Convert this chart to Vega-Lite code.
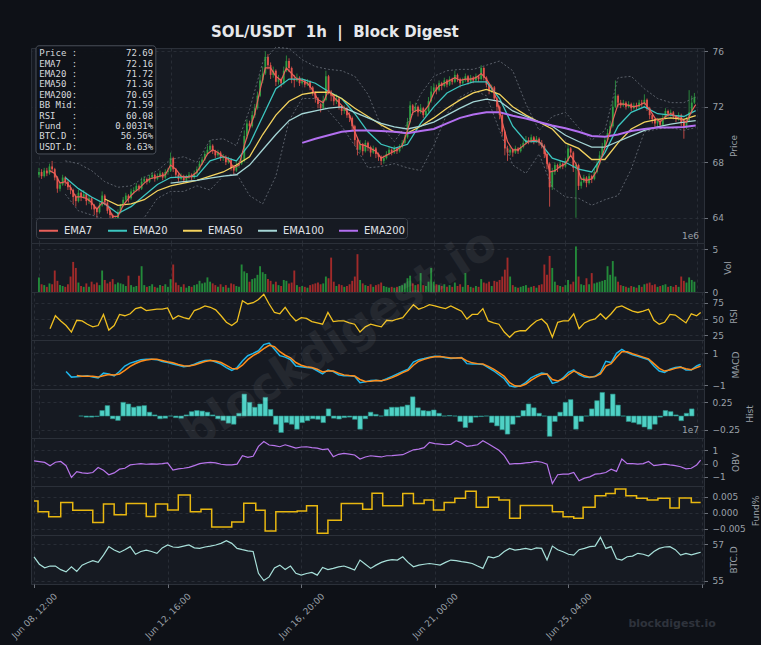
{
"$schema": "https://vega.github.io/schema/vega-lite/v6.json",
"background": "#0e1117",
"padding": {"left": 9, "top": 24, "right": 0, "bottom": 4},
"spacing": 0,
"bounds": "flush",
"resolve": {"legend": {"color": "independent"}, "scale": {"color": "independent"}},
"title": {"text": "SOL/USDT\u00a0\u00a01h\u00a0\u00a0|\u00a0\u00a0Block Digest", "anchor": "start", "frame": "group", "dx": 180, "offset": 5, "fontSize": 15, "fontWeight": "bold", "color": "#e6e8eb", "font": "DejaVu Sans"},
"datasets": {
"c": [
{"h":0,"o":67.1,"c":67.3,"hi":67.6,"lo":66.9,"v":1.7},
{"h":2,"o":67.3,"c":67.0,"hi":67.5,"lo":66.8,"v":0.9},
{"h":4,"o":67.0,"c":67.4,"hi":67.6,"lo":66.9,"v":0.8},
{"h":6,"o":67.4,"c":67.2,"hi":67.6,"lo":67.0,"v":0.6},
{"h":8,"o":67.2,"c":67.7,"hi":67.9,"lo":67.1,"v":1.0},
{"h":10,"o":67.7,"c":67.5,"hi":68.1,"lo":67.3,"v":0.9},
{"h":12,"o":67.5,"c":66.9,"hi":67.6,"lo":66.7,"v":2.5},
{"h":14,"o":66.9,"c":66.1,"hi":67.0,"lo":65.8,"v":1.3},
{"h":16,"o":66.1,"c":66.4,"hi":66.6,"lo":65.9,"v":0.8},
{"h":18,"o":66.4,"c":66.9,"hi":67.1,"lo":66.3,"v":0.7},
{"h":20,"o":66.9,"c":66.6,"hi":67.0,"lo":66.3,"v":0.6},
{"h":22,"o":66.6,"c":66.2,"hi":66.7,"lo":66.0,"v":0.9},
{"h":24,"o":66.2,"c":66.0,"hi":66.4,"lo":65.7,"v":1.8},
{"h":26,"o":66.0,"c":65.5,"hi":66.1,"lo":65.0,"v":3.5},
{"h":28,"o":65.5,"c":65.2,"hi":65.7,"lo":64.8,"v":2.8},
{"h":30,"o":65.2,"c":65.8,"hi":66.0,"lo":65.1,"v":1.1},
{"h":32,"o":65.8,"c":65.5,"hi":65.9,"lo":65.2,"v":0.7},
{"h":34,"o":65.5,"c":65.7,"hi":66.0,"lo":65.4,"v":0.6},
{"h":36,"o":65.7,"c":65.2,"hi":65.8,"lo":64.9,"v":1.0},
{"h":38,"o":65.2,"c":65.4,"hi":65.6,"lo":65.0,"v":0.6},
{"h":40,"o":65.4,"c":64.9,"hi":65.5,"lo":64.6,"v":1.2},
{"h":42,"o":64.9,"c":64.6,"hi":65.0,"lo":64.2,"v":0.9},
{"h":44,"o":64.6,"c":64.4,"hi":64.8,"lo":64.0,"v":1.1},
{"h":46,"o":64.4,"c":64.9,"hi":65.1,"lo":64.3,"v":0.8},
{"h":48,"o":64.9,"c":65.6,"hi":65.9,"lo":64.8,"v":2.5},
{"h":50,"o":65.6,"c":65.1,"hi":65.7,"lo":64.9,"v":1.4},
{"h":52,"o":65.1,"c":64.5,"hi":65.2,"lo":64.3,"v":1.0},
{"h":54,"o":64.5,"c":64.2,"hi":64.7,"lo":63.9,"v":1.2},
{"h":56,"o":64.2,"c":63.7,"hi":64.3,"lo":63.4,"v":1.5},
{"h":58,"o":63.7,"c":63.9,"hi":64.1,"lo":63.5,"v":0.9},
{"h":60,"o":63.9,"c":64.4,"hi":64.6,"lo":63.8,"v":1.1},
{"h":62,"o":64.4,"c":64.9,"hi":65.0,"lo":64.3,"v":1.0},
{"h":64,"o":64.9,"c":65.3,"hi":65.5,"lo":64.8,"v":0.9},
{"h":66,"o":65.3,"c":65.6,"hi":65.8,"lo":65.2,"v":0.7},
{"h":68,"o":65.6,"c":65.4,"hi":65.7,"lo":65.1,"v":1.9},
{"h":70,"o":65.4,"c":65.9,"hi":66.1,"lo":65.3,"v":0.8},
{"h":72,"o":65.9,"c":66.0,"hi":66.2,"lo":65.7,"v":0.6},
{"h":74,"o":66.0,"c":66.3,"hi":66.5,"lo":65.9,"v":0.7},
{"h":76,"o":66.3,"c":66.1,"hi":66.4,"lo":65.9,"v":1.9},
{"h":78,"o":66.1,"c":66.6,"hi":66.9,"lo":66.0,"v":3.0},
{"h":80,"o":66.6,"c":66.8,"hi":67.0,"lo":66.5,"v":0.8},
{"h":82,"o":66.8,"c":66.6,"hi":66.9,"lo":66.4,"v":0.6},
{"h":84,"o":66.6,"c":66.9,"hi":67.1,"lo":66.5,"v":0.7},
{"h":86,"o":66.9,"c":67.1,"hi":67.3,"lo":66.8,"v":0.9},
{"h":88,"o":67.1,"c":66.8,"hi":67.2,"lo":66.6,"v":0.6},
{"h":90,"o":66.8,"c":67.0,"hi":67.2,"lo":66.7,"v":0.5},
{"h":92,"o":67.0,"c":67.2,"hi":67.4,"lo":66.9,"v":0.8},
{"h":94,"o":67.2,"c":66.9,"hi":67.3,"lo":66.7,"v":0.7},
{"h":96,"o":66.9,"c":67.3,"hi":67.5,"lo":66.8,"v":0.9},
{"h":98,"o":67.3,"c":67.4,"hi":67.6,"lo":67.1,"v":0.6},
{"h":100,"o":67.4,"c":68.3,"hi":68.7,"lo":67.3,"v":1.5},
{"h":102,"o":68.3,"c":67.5,"hi":68.4,"lo":67.3,"v":3.2},
{"h":104,"o":67.5,"c":67.1,"hi":67.6,"lo":66.9,"v":1.1},
{"h":106,"o":67.1,"c":66.8,"hi":67.2,"lo":66.6,"v":0.8},
{"h":108,"o":66.8,"c":67.0,"hi":67.2,"lo":66.7,"v":0.6},
{"h":110,"o":67.0,"c":66.7,"hi":67.1,"lo":66.5,"v":0.9},
{"h":112,"o":66.7,"c":66.9,"hi":67.1,"lo":66.6,"v":0.5},
{"h":114,"o":66.9,"c":67.1,"hi":67.3,"lo":66.8,"v":0.7},
{"h":116,"o":67.1,"c":66.9,"hi":67.2,"lo":66.7,"v":0.6},
{"h":118,"o":66.9,"c":67.2,"hi":67.4,"lo":66.8,"v":0.8},
{"h":120,"o":67.2,"c":67.5,"hi":67.7,"lo":67.1,"v":0.9},
{"h":122,"o":67.5,"c":67.9,"hi":68.1,"lo":67.4,"v":1.3},
{"h":124,"o":67.9,"c":68.2,"hi":68.4,"lo":67.8,"v":1.0},
{"h":126,"o":68.2,"c":68.6,"hi":68.8,"lo":68.1,"v":1.1},
{"h":128,"o":68.6,"c":68.9,"hi":69.2,"lo":68.5,"v":1.7},
{"h":130,"o":68.9,"c":69.2,"hi":69.6,"lo":68.8,"v":1.2},
{"h":132,"o":69.2,"c":68.8,"hi":69.3,"lo":68.6,"v":1.0},
{"h":134,"o":68.8,"c":68.5,"hi":68.9,"lo":68.3,"v":0.8},
{"h":136,"o":68.5,"c":68.7,"hi":68.9,"lo":68.4,"v":0.6},
{"h":138,"o":68.7,"c":68.3,"hi":68.8,"lo":68.1,"v":0.9},
{"h":140,"o":68.3,"c":68.4,"hi":68.6,"lo":68.1,"v":0.6},
{"h":142,"o":68.4,"c":68.0,"hi":68.5,"lo":67.8,"v":0.8},
{"h":144,"o":68.0,"c":68.2,"hi":68.4,"lo":67.9,"v":0.5},
{"h":146,"o":68.2,"c":67.6,"hi":68.3,"lo":67.4,"v":1.0},
{"h":148,"o":67.6,"c":67.4,"hi":67.8,"lo":67.1,"v":0.9},
{"h":150,"o":67.4,"c":67.8,"hi":68.0,"lo":67.3,"v":0.7},
{"h":152,"o":67.8,"c":67.9,"hi":68.1,"lo":67.6,"v":0.6},
{"h":154,"o":67.9,"c":68.1,"hi":68.4,"lo":67.8,"v":3.2},
{"h":156,"o":68.1,"c":69.9,"hi":70.3,"lo":68.0,"v":2.4},
{"h":158,"o":69.9,"c":70.8,"hi":71.1,"lo":69.7,"v":2.2},
{"h":160,"o":70.8,"c":70.6,"hi":71.0,"lo":70.3,"v":1.2},
{"h":162,"o":70.6,"c":71.4,"hi":71.7,"lo":70.5,"v":1.5},
{"h":164,"o":71.4,"c":71.9,"hi":72.2,"lo":71.2,"v":1.6},
{"h":166,"o":71.9,"c":72.8,"hi":73.1,"lo":71.8,"v":2.0},
{"h":168,"o":72.8,"c":73.9,"hi":74.3,"lo":72.7,"v":3.0},
{"h":170,"o":73.9,"c":74.4,"hi":74.9,"lo":73.7,"v":2.3},
{"h":172,"o":74.4,"c":75.6,"hi":76.0,"lo":74.3,"v":2.1},
{"h":174,"o":75.6,"c":75.0,"hi":75.8,"lo":74.7,"v":1.5},
{"h":176,"o":75.0,"c":74.3,"hi":75.2,"lo":74.0,"v":1.3},
{"h":178,"o":74.3,"c":74.6,"hi":74.9,"lo":74.1,"v":0.9},
{"h":180,"o":74.6,"c":73.8,"hi":74.7,"lo":73.5,"v":1.2},
{"h":182,"o":73.8,"c":74.0,"hi":74.3,"lo":73.6,"v":0.8},
{"h":184,"o":74.0,"c":73.7,"hi":74.1,"lo":73.4,"v":0.7},
{"h":186,"o":73.7,"c":74.6,"hi":74.9,"lo":73.6,"v":1.4},
{"h":188,"o":74.6,"c":75.3,"hi":75.7,"lo":74.5,"v":1.3},
{"h":190,"o":75.3,"c":74.8,"hi":75.5,"lo":74.5,"v":1.0},
{"h":192,"o":74.8,"c":74.0,"hi":74.9,"lo":73.7,"v":1.1},
{"h":194,"o":74.0,"c":73.9,"hi":74.3,"lo":73.4,"v":2.5},
{"h":196,"o":73.9,"c":74.1,"hi":74.4,"lo":73.8,"v":0.8},
{"h":198,"o":74.1,"c":73.7,"hi":74.2,"lo":73.5,"v":0.6},
{"h":200,"o":73.7,"c":73.9,"hi":74.1,"lo":73.6,"v":0.7},
{"h":202,"o":73.9,"c":73.6,"hi":74.0,"lo":73.4,"v":0.6},
{"h":204,"o":73.6,"c":73.8,"hi":74.0,"lo":73.5,"v":0.5},
{"h":206,"o":73.8,"c":73.4,"hi":73.9,"lo":73.2,"v":0.8},
{"h":208,"o":73.4,"c":73.0,"hi":73.5,"lo":72.8,"v":0.9},
{"h":210,"o":73.0,"c":72.6,"hi":73.1,"lo":72.3,"v":1.0},
{"h":212,"o":72.6,"c":72.2,"hi":72.7,"lo":71.9,"v":1.1},
{"h":214,"o":72.2,"c":71.9,"hi":72.3,"lo":71.6,"v":0.9},
{"h":216,"o":71.9,"c":72.5,"hi":72.8,"lo":71.8,"v":1.0},
{"h":218,"o":72.5,"c":74.2,"hi":74.6,"lo":72.4,"v":1.8},
{"h":220,"o":74.2,"c":73.1,"hi":74.3,"lo":72.9,"v":1.6},
{"h":222,"o":73.1,"c":72.8,"hi":73.2,"lo":72.4,"v":4.0},
{"h":224,"o":72.8,"c":72.4,"hi":72.9,"lo":72.1,"v":1.2},
{"h":226,"o":72.4,"c":72.6,"hi":72.9,"lo":72.2,"v":0.7},
{"h":228,"o":72.6,"c":72.0,"hi":72.7,"lo":71.8,"v":0.9},
{"h":230,"o":72.0,"c":71.7,"hi":72.1,"lo":71.4,"v":0.8},
{"h":232,"o":71.7,"c":71.9,"hi":72.1,"lo":71.5,"v":0.6},
{"h":234,"o":71.9,"c":71.4,"hi":72.0,"lo":71.2,"v":0.7},
{"h":236,"o":71.4,"c":71.2,"hi":71.6,"lo":70.9,"v":0.9},
{"h":238,"o":71.2,"c":70.6,"hi":71.3,"lo":70.3,"v":1.3},
{"h":240,"o":70.6,"c":69.6,"hi":70.7,"lo":69.2,"v":1.8},
{"h":242,"o":69.6,"c":68.9,"hi":69.8,"lo":68.5,"v":4.4},
{"h":244,"o":68.9,"c":69.3,"hi":69.6,"lo":68.7,"v":1.4},
{"h":246,"o":69.3,"c":68.8,"hi":69.4,"lo":68.5,"v":1.0},
{"h":248,"o":68.8,"c":69.4,"hi":69.6,"lo":68.7,"v":0.8},
{"h":250,"o":69.4,"c":69.1,"hi":69.5,"lo":68.8,"v":0.7},
{"h":252,"o":69.1,"c":68.7,"hi":69.2,"lo":68.4,"v":0.9},
{"h":254,"o":68.7,"c":69.0,"hi":69.2,"lo":68.6,"v":0.6},
{"h":256,"o":69.0,"c":68.6,"hi":69.1,"lo":68.3,"v":0.8},
{"h":258,"o":68.6,"c":68.4,"hi":68.7,"lo":68.1,"v":0.9},
{"h":260,"o":68.4,"c":68.1,"hi":68.5,"lo":67.8,"v":1.1},
{"h":262,"o":68.1,"c":68.3,"hi":68.5,"lo":67.9,"v":0.7},
{"h":264,"o":68.3,"c":68.6,"hi":68.8,"lo":68.2,"v":0.6},
{"h":266,"o":68.6,"c":68.9,"hi":69.1,"lo":68.5,"v":0.5},
{"h":268,"o":68.9,"c":68.7,"hi":69.0,"lo":68.5,"v":0.6},
{"h":270,"o":68.7,"c":69.0,"hi":69.2,"lo":68.6,"v":0.5},
{"h":272,"o":69.0,"c":68.8,"hi":69.1,"lo":68.6,"v":0.6},
{"h":274,"o":68.8,"c":69.1,"hi":69.3,"lo":68.7,"v":0.7},
{"h":276,"o":69.1,"c":69.4,"hi":69.6,"lo":69.0,"v":0.8},
{"h":278,"o":69.4,"c":69.8,"hi":70.0,"lo":69.3,"v":1.0},
{"h":280,"o":69.8,"c":70.9,"hi":71.2,"lo":69.7,"v":1.6},
{"h":282,"o":70.9,"c":72.1,"hi":72.4,"lo":70.8,"v":1.9},
{"h":284,"o":72.1,"c":71.7,"hi":72.2,"lo":71.4,"v":1.0},
{"h":286,"o":71.7,"c":72.0,"hi":72.3,"lo":71.6,"v":0.8},
{"h":288,"o":72.0,"c":71.6,"hi":72.1,"lo":71.3,"v":0.9},
{"h":290,"o":71.6,"c":71.9,"hi":72.2,"lo":71.5,"v":2.2},
{"h":292,"o":71.9,"c":71.4,"hi":72.0,"lo":71.2,"v":0.8},
{"h":294,"o":71.4,"c":71.7,"hi":71.9,"lo":71.3,"v":0.7},
{"h":296,"o":71.7,"c":72.4,"hi":72.7,"lo":71.6,"v":1.2},
{"h":298,"o":72.4,"c":73.1,"hi":73.5,"lo":72.3,"v":2.8},
{"h":300,"o":73.1,"c":73.4,"hi":73.7,"lo":73.0,"v":1.2},
{"h":302,"o":73.4,"c":73.2,"hi":73.6,"lo":72.9,"v":0.9},
{"h":304,"o":73.2,"c":73.7,"hi":73.9,"lo":73.1,"v":0.8},
{"h":306,"o":73.7,"c":73.5,"hi":73.8,"lo":73.2,"v":0.7},
{"h":308,"o":73.5,"c":73.9,"hi":74.1,"lo":73.4,"v":0.9},
{"h":310,"o":73.9,"c":73.6,"hi":74.0,"lo":73.4,"v":0.6},
{"h":312,"o":73.6,"c":74.0,"hi":74.2,"lo":73.5,"v":0.8},
{"h":314,"o":74.0,"c":73.8,"hi":74.1,"lo":73.6,"v":0.6},
{"h":316,"o":73.8,"c":74.3,"hi":74.6,"lo":73.7,"v":1.1},
{"h":318,"o":74.3,"c":74.0,"hi":74.4,"lo":73.8,"v":0.7},
{"h":320,"o":74.0,"c":73.7,"hi":74.1,"lo":73.4,"v":0.9},
{"h":322,"o":73.7,"c":73.9,"hi":74.1,"lo":73.6,"v":0.6},
{"h":324,"o":73.9,"c":74.2,"hi":74.4,"lo":73.8,"v":2.2},
{"h":326,"o":74.2,"c":73.8,"hi":74.3,"lo":73.6,"v":0.8},
{"h":328,"o":73.8,"c":74.1,"hi":74.3,"lo":73.7,"v":0.6},
{"h":330,"o":74.1,"c":73.9,"hi":74.2,"lo":73.7,"v":0.5},
{"h":332,"o":73.9,"c":74.2,"hi":74.4,"lo":73.8,"v":0.7},
{"h":334,"o":74.2,"c":74.0,"hi":74.3,"lo":73.8,"v":0.6},
{"h":336,"o":74.0,"c":74.8,"hi":75.0,"lo":73.9,"v":1.5},
{"h":338,"o":74.8,"c":74.1,"hi":74.9,"lo":73.9,"v":1.1},
{"h":340,"o":74.1,"c":73.6,"hi":74.2,"lo":73.4,"v":1.0},
{"h":342,"o":73.6,"c":73.2,"hi":73.7,"lo":72.9,"v":1.2},
{"h":344,"o":73.2,"c":73.4,"hi":73.6,"lo":73.0,"v":0.7},
{"h":346,"o":73.4,"c":72.6,"hi":73.5,"lo":72.4,"v":1.3},
{"h":348,"o":72.6,"c":72.0,"hi":72.7,"lo":71.7,"v":1.2},
{"h":350,"o":72.0,"c":71.4,"hi":72.1,"lo":71.1,"v":1.4},
{"h":352,"o":71.4,"c":70.2,"hi":71.5,"lo":69.9,"v":1.8},
{"h":354,"o":70.2,"c":69.0,"hi":70.3,"lo":68.5,"v":2.6},
{"h":356,"o":69.0,"c":68.7,"hi":69.2,"lo":68.1,"v":4.0},
{"h":358,"o":68.7,"c":68.9,"hi":69.2,"lo":68.5,"v":1.8},
{"h":360,"o":68.9,"c":68.7,"hi":69.0,"lo":68.4,"v":0.8},
{"h":362,"o":68.7,"c":69.0,"hi":69.2,"lo":68.6,"v":0.6},
{"h":364,"o":69.0,"c":68.8,"hi":69.1,"lo":68.6,"v":0.5},
{"h":366,"o":68.8,"c":69.1,"hi":69.3,"lo":68.7,"v":0.6},
{"h":368,"o":69.1,"c":69.4,"hi":69.6,"lo":69.0,"v":0.7},
{"h":370,"o":69.4,"c":69.6,"hi":69.9,"lo":69.3,"v":0.8},
{"h":372,"o":69.6,"c":69.5,"hi":69.8,"lo":69.3,"v":0.5},
{"h":374,"o":69.5,"c":69.8,"hi":70.0,"lo":69.4,"v":0.6},
{"h":376,"o":69.8,"c":69.5,"hi":69.9,"lo":69.3,"v":0.7},
{"h":378,"o":69.5,"c":69.7,"hi":69.9,"lo":69.4,"v":0.5},
{"h":380,"o":69.7,"c":69.4,"hi":69.8,"lo":69.2,"v":0.8},
{"h":382,"o":69.4,"c":69.2,"hi":69.6,"lo":69.0,"v":0.9},
{"h":384,"o":69.2,"c":68.6,"hi":69.3,"lo":68.3,"v":3.2},
{"h":386,"o":68.6,"c":67.9,"hi":68.7,"lo":67.5,"v":2.0},
{"h":388,"o":67.9,"c":66.2,"hi":68.0,"lo":64.8,"v":4.2},
{"h":390,"o":66.2,"c":67.3,"hi":67.6,"lo":66.0,"v":2.8},
{"h":392,"o":67.3,"c":67.8,"hi":68.0,"lo":67.1,"v":1.2},
{"h":394,"o":67.8,"c":67.6,"hi":67.9,"lo":67.3,"v":0.8},
{"h":396,"o":67.6,"c":67.9,"hi":68.1,"lo":67.5,"v":0.7},
{"h":398,"o":67.9,"c":67.7,"hi":68.0,"lo":67.5,"v":0.6},
{"h":400,"o":67.7,"c":68.1,"hi":68.3,"lo":67.6,"v":0.8},
{"h":402,"o":68.1,"c":69.0,"hi":69.3,"lo":68.0,"v":1.4},
{"h":404,"o":69.0,"c":68.7,"hi":69.1,"lo":68.4,"v":0.9},
{"h":406,"o":68.7,"c":67.6,"hi":68.8,"lo":67.3,"v":1.2},
{"h":408,"o":67.6,"c":67.8,"hi":68.0,"lo":64.0,"v":5.3},
{"h":410,"o":67.8,"c":66.3,"hi":67.9,"lo":66.0,"v":1.8},
{"h":412,"o":66.3,"c":66.6,"hi":66.9,"lo":66.1,"v":0.9},
{"h":414,"o":66.6,"c":66.9,"hi":67.1,"lo":66.5,"v":0.8},
{"h":416,"o":66.9,"c":66.5,"hi":67.0,"lo":66.2,"v":1.6},
{"h":418,"o":66.5,"c":67.0,"hi":67.2,"lo":66.4,"v":0.9},
{"h":420,"o":67.0,"c":66.8,"hi":67.1,"lo":66.5,"v":2.2},
{"h":422,"o":66.8,"c":67.3,"hi":67.5,"lo":66.7,"v":1.0},
{"h":424,"o":67.3,"c":67.9,"hi":68.1,"lo":67.2,"v":1.1},
{"h":426,"o":67.9,"c":68.5,"hi":68.8,"lo":67.8,"v":1.2},
{"h":428,"o":68.5,"c":69.1,"hi":69.4,"lo":68.4,"v":1.3},
{"h":430,"o":69.1,"c":69.6,"hi":69.9,"lo":69.0,"v":1.4},
{"h":432,"o":69.6,"c":70.1,"hi":70.4,"lo":69.5,"v":3.0},
{"h":434,"o":70.1,"c":70.6,"hi":71.0,"lo":70.0,"v":2.0},
{"h":436,"o":70.6,"c":72.0,"hi":72.4,"lo":70.5,"v":3.6},
{"h":438,"o":72.0,"c":72.8,"hi":73.9,"lo":71.9,"v":1.8},
{"h":440,"o":72.8,"c":72.3,"hi":72.9,"lo":72.0,"v":1.2},
{"h":442,"o":72.3,"c":72.1,"hi":72.5,"lo":71.9,"v":0.8},
{"h":444,"o":72.1,"c":72.3,"hi":72.5,"lo":72.0,"v":0.7},
{"h":446,"o":72.3,"c":72.0,"hi":72.4,"lo":71.8,"v":0.6},
{"h":448,"o":72.0,"c":72.2,"hi":72.4,"lo":71.9,"v":0.5},
{"h":450,"o":72.2,"c":71.9,"hi":72.3,"lo":71.7,"v":0.7},
{"h":452,"o":71.9,"c":72.1,"hi":72.3,"lo":71.8,"v":0.6},
{"h":454,"o":72.1,"c":72.0,"hi":72.3,"lo":71.8,"v":0.5},
{"h":456,"o":72.0,"c":72.3,"hi":72.5,"lo":71.9,"v":0.8},
{"h":458,"o":72.3,"c":72.2,"hi":72.5,"lo":72.0,"v":0.6},
{"h":460,"o":72.2,"c":72.5,"hi":72.9,"lo":72.1,"v":0.9},
{"h":462,"o":72.5,"c":71.9,"hi":72.6,"lo":71.7,"v":1.0},
{"h":464,"o":71.9,"c":71.4,"hi":72.0,"lo":71.1,"v":1.1},
{"h":466,"o":71.4,"c":71.1,"hi":71.5,"lo":70.8,"v":0.8},
{"h":468,"o":71.1,"c":70.8,"hi":71.2,"lo":70.5,"v":0.9},
{"h":470,"o":70.8,"c":71.0,"hi":71.2,"lo":70.6,"v":0.6},
{"h":472,"o":71.0,"c":70.7,"hi":71.1,"lo":70.4,"v":0.7},
{"h":474,"o":70.7,"c":71.2,"hi":71.4,"lo":70.6,"v":0.8},
{"h":476,"o":71.2,"c":71.7,"hi":71.9,"lo":71.1,"v":0.9},
{"h":478,"o":71.7,"c":71.5,"hi":71.8,"lo":71.3,"v":0.6},
{"h":480,"o":71.5,"c":71.6,"hi":71.8,"lo":71.3,"v":0.7},
{"h":482,"o":71.6,"c":71.3,"hi":71.7,"lo":71.1,"v":0.6},
{"h":484,"o":71.3,"c":71.1,"hi":71.4,"lo":70.9,"v":0.8},
{"h":486,"o":71.1,"c":71.4,"hi":71.6,"lo":71.0,"v":0.6},
{"h":488,"o":71.4,"c":70.9,"hi":71.5,"lo":70.6,"v":1.8},
{"h":490,"o":70.9,"c":70.5,"hi":71.0,"lo":69.7,"v":1.3},
{"h":492,"o":70.5,"c":71.0,"hi":71.3,"lo":70.4,"v":1.1},
{"h":494,"o":71.0,"c":71.6,"hi":73.2,"lo":70.9,"v":1.7},
{"h":496,"o":71.6,"c":72.3,"hi":72.8,"lo":71.5,"v":1.4},
{"h":498,"o":72.3,"c":72.69,"hi":73.0,"lo":72.2,"v":1.2}
],
"ind": [
{"h":0,"obv":0.21,"btc":56.31},
{"h":4,"obv":0.15,"btc":55.9},
{"h":8,"EMA7":67.4,"obv":0.09,"btc":55.7},
{"h":12,"EMA7":67.2,"rsi":35,"obv":-0.16,"btc":55.8},
{"h":16,"EMA7":66.5,"rsi":55,"obv":0.1,"btc":55.8},
{"h":20,"EMA7":66.6,"rsi":47,"obv":0.16,"btc":55.6},
{"h":24,"EMA7":66.2,"rsi":40,"m":-0.15,"obv":-0.16,"btc":55.48},
{"h":28,"EMA7":65.5,"rsi":30,"m":-0.5,"obv":-1.04,"btc":55.76},
{"h":32,"EMA7":65.5,"rsi":48,"m":-0.47,"s":-0.4,"hs":0,"obv":-0.6,"btc":55.5},
{"h":36,"EMA7":65.4,"rsi":47,"m":-0.44,"s":-0.45,"hs":-0.02,"obv":-0.7,"btc":55.85},
{"h":40,"EMA7":65.1,"rsi":42,"m":-0.42,"s":-0.44,"hs":-0.02,"obv":-0.74,"btc":55.98},
{"h":44,"EMA7":64.6,"rsi":38,"m":-0.5,"s":-0.45,"hs":-0.01,"obv":-0.67,"btc":56.1},
{"h":48,"EMA7":65.1,"rsi":40,"m":-0.55,"s":-0.5,"hs":0.1,"obv":-0.3,"btc":56.0},
{"h":52,"EMA7":64.9,"rsi":57,"m":-0.25,"s":-0.42,"hs":0.19,"obv":-0.5,"btc":56.4},
{"h":56,"EMA7":64.1,"rsi":33,"m":-0.3,"s":-0.34,"hs":-0.05,"obv":-0.84,"btc":56.87},
{"h":60,"EMA7":64.1,"rsi":40,"m":-0.42,"s":-0.36,"hs":-0.08,"obv":-0.7,"btc":56.68},
{"h":64,"EMA7":64.9,"rsi":57,"m":-0.15,"s":-0.3,"hs":0.25,"obv":-0.42,"btc":56.55},
{"h":68,"EMA7":65.4,"rsi":55,"m":0.2,"s":-0.08,"hs":0.22,"obv":-0.35,"btc":56.7},
{"h":72,"EMA7":65.8,"rsi":58,"m":0.38,"s":0.18,"hs":0.16,"obv":-0.1,"btc":56.87},
{"h":76,"EMA7":66.1,"rsi":66,"m":0.48,"s":0.36,"hs":0.18,"obv":-0.05,"btc":56.45},
{"h":80,"EMA7":66.5,"rsi":68,"m":0.6,"s":0.5,"hs":0.19,"obv":0.0,"btc":56.6},
{"h":84,"EMA7":66.8,"rsi":63,"m":0.63,"s":0.58,"hs":0.07,"obv":-0.05,"btc":56.68},
{"h":88,"EMA7":66.9,"rsi":64,"m":0.63,"s":0.62,"hs":0.02,"obv":-0.02,"btc":56.6},
{"h":92,"EMA7":67.0,"rsi":65,"m":0.6,"s":0.62,"hs":-0.05,"obv":-0.04,"btc":56.5},
{"h":96,"EMA7":67.1,"rsi":65,"m":0.48,"s":0.55,"hs":-0.04,"obv":0.0,"btc":56.8},
{"h":100,"EMA7":67.8,"rsi":67,"m":0.42,"s":0.47,"hs":0.0,"obv":0.05,"btc":56.96},
{"h":104,"EMA7":67.5,"rsi":50,"m":0.33,"s":0.4,"hs":-0.03,"obv":-0.49,"btc":56.85},
{"h":108,"EMA7":67.0,"rsi":55,"m":0.24,"s":0.3,"hs":-0.04,"obv":-0.4,"btc":56.83},
{"h":112,"EMA7":66.9,"rsi":52,"m":0.15,"s":0.22,"hs":0.02,"obv":-0.35,"btc":56.9},
{"h":116,"EMA7":67.0,"rsi":50,"m":0.2,"s":0.2,"hs":0.08,"obv":-0.29,"btc":56.96},
{"h":120,"EMA7":67.3,"rsi":63,"m":0.32,"s":0.26,"hs":0.1,"obv":-0.15,"btc":56.8},
{"h":124,"EMA7":67.9,"rsi":66,"m":0.45,"s":0.37,"hs":0.09,"obv":0.0,"btc":56.77},
{"h":128,"EMA7":68.6,"rsi":70,"m":0.55,"s":0.48,"hs":0.07,"obv":0.05,"btc":56.85},
{"h":132,"EMA7":68.9,"rsi":68,"m":0.57,"s":0.54,"hs":0.02,"obv":0.09,"btc":56.9},
{"h":136,"EMA7":68.7,"rsi":64,"m":0.45,"s":0.52,"hs":-0.05,"obv":0.05,"btc":56.96},
{"h":140,"EMA7":68.4,"rsi":55,"m":0.32,"s":0.42,"hs":-0.08,"obv":-0.05,"btc":57.05},
{"h":144,"EMA7":68.2,"rsi":45,"m":0.1,"s":0.24,"hs":-0.13,"obv":-0.09,"btc":57.2},
{"h":148,"EMA7":67.6,"rsi":40,"m":-0.08,"s":0.05,"hs":-0.15,"obv":-0.1,"btc":57.05},
{"h":152,"EMA7":67.8,"rsi":46,"m":0.1,"s":0.02,"hs":0.05,"obv":-0.04,"btc":56.77},
{"h":156,"EMA7":69.2,"rsi":78,"m":0.52,"s":0.25,"hs":0.4,"obv":0.59,"btc":56.7},
{"h":160,"EMA7":70.4,"rsi":73,"m":0.85,"s":0.6,"hs":0.25,"obv":0.47,"btc":56.64},
{"h":164,"EMA7":71.5,"rsi":75,"m":1.0,"s":0.85,"hs":0.16,"obv":0.55,"btc":56.6},
{"h":168,"EMA7":73.2,"rsi":80,"m":1.16,"s":1.05,"hs":0.22,"obv":1.3,"btc":55.4},
{"h":172,"EMA7":74.8,"rsi":88,"m":1.55,"s":1.3,"hs":0.34,"obv":1.67,"btc":55.0},
{"h":176,"EMA7":74.8,"rsi":73,"m":1.65,"s":1.5,"hs":0.12,"obv":1.4,"btc":55.2},
{"h":180,"EMA7":74.2,"rsi":60,"m":1.26,"s":1.42,"hs":-0.15,"obv":1.35,"btc":55.7},
{"h":184,"EMA7":73.9,"rsi":58,"m":0.85,"s":1.1,"hs":-0.3,"obv":1.27,"btc":55.85},
{"h":188,"EMA7":74.8,"rsi":68,"m":0.76,"s":0.88,"hs":-0.12,"obv":1.42,"btc":55.61},
{"h":192,"EMA7":74.4,"rsi":56,"m":0.6,"s":0.72,"hs":-0.15,"obv":1.3,"btc":55.8},
{"h":196,"EMA7":74.0,"rsi":47,"m":0.2,"s":0.42,"hs":-0.24,"obv":1.17,"btc":55.4},
{"h":200,"EMA7":73.9,"rsi":52,"m":0.15,"s":0.25,"hs":-0.12,"obv":1.25,"btc":55.3},
{"h":204,"EMA7":73.7,"rsi":51,"m":0.1,"s":0.15,"hs":-0.085,"obv":1.27,"btc":55.39},
{"h":208,"EMA7":73.2,"rsi":46,"m":0.08,"s":0.1,"hs":-0.05,"obv":1.2,"btc":55.45},
{"h":212,"EMA7":72.5,"rsi":44,"m":-0.1,"s":0.0,"hs":-0.06,"obv":1.17,"btc":55.3},
{"h":216,"EMA7":72.3,"rsi":42,"m":-0.3,"s":-0.18,"hs":-0.12,"obv":1.05,"btc":55.72},
{"h":220,"EMA7":73.2,"rsi":60,"m":-0.05,"s":-0.12,"hs":0.13,"obv":1.1,"btc":55.6},
{"h":224,"EMA7":72.7,"rsi":46,"m":-0.15,"s":-0.12,"hs":-0.04,"obv":0.52,"btc":55.67},
{"h":228,"EMA7":72.3,"rsi":47,"m":-0.35,"s":-0.25,"hs":-0.055,"obv":0.7,"btc":55.75},
{"h":232,"EMA7":71.9,"rsi":47,"m":-0.42,"s":-0.36,"hs":-0.03,"obv":0.77,"btc":55.8},
{"h":236,"EMA7":71.4,"rsi":44,"m":-0.42,"s":-0.4,"hs":-0.02,"obv":0.72,"btc":55.7},
{"h":240,"EMA7":70.2,"rsi":42,"m":-0.45,"s":-0.43,"hs":-0.06,"obv":0.65,"btc":55.58},
{"h":244,"EMA7":69.3,"rsi":30,"m":-0.85,"s":-0.65,"hs":-0.24,"obv":0.34,"btc":56.13},
{"h":248,"EMA7":69.2,"rsi":38,"m":-0.8,"s":-0.78,"hs":-0.05,"obv":0.5,"btc":55.9},
{"h":252,"EMA7":69.0,"rsi":42,"m":-0.72,"s":-0.76,"hs":0.07,"obv":0.59,"btc":55.67},
{"h":256,"EMA7":68.8,"rsi":40,"m":-0.7,"s":-0.72,"hs":0.03,"obv":0.55,"btc":55.85},
{"h":260,"EMA7":68.3,"rsi":38,"m":-0.74,"s":-0.73,"hs":0.0,"obv":0.5,"btc":56.0},
{"h":264,"EMA7":68.5,"rsi":48,"m":-0.6,"s":-0.66,"hs":0.12,"obv":0.59,"btc":56.1},
{"h":268,"EMA7":68.7,"rsi":47,"m":-0.45,"s":-0.53,"hs":0.16,"obv":0.6,"btc":56.15},
{"h":272,"EMA7":68.9,"rsi":50,"m":-0.3,"s":-0.38,"hs":0.16,"obv":0.64,"btc":56.13},
{"h":276,"EMA7":69.2,"rsi":52,"m":-0.15,"s":-0.22,"hs":0.17,"obv":0.67,"btc":56.31},
{"h":280,"EMA7":70.3,"rsi":62,"m":0.0,"s":-0.08,"hs":0.2,"obv":0.85,"btc":56.0},
{"h":284,"EMA7":71.6,"rsi":72,"m":0.45,"s":0.25,"hs":0.35,"obv":1.04,"btc":55.76},
{"h":288,"EMA7":71.8,"rsi":65,"m":0.6,"s":0.5,"hs":0.15,"obv":1.09,"btc":55.85},
{"h":292,"EMA7":71.6,"rsi":68,"m":0.67,"s":0.62,"hs":0.1,"obv":1.2,"btc":55.9},
{"h":296,"EMA7":72.1,"rsi":72,"m":0.75,"s":0.72,"hs":0.09,"obv":1.6,"btc":55.94},
{"h":300,"EMA7":73.0,"rsi":70,"m":0.82,"s":0.79,"hs":0.11,"obv":1.5,"btc":55.9},
{"h":304,"EMA7":73.5,"rsi":68,"m":0.8,"s":0.8,"hs":0.05,"obv":1.47,"btc":55.85},
{"h":308,"EMA7":73.7,"rsi":66,"m":0.72,"s":0.76,"hs":0.0,"obv":1.42,"btc":56.0},
{"h":312,"EMA7":73.9,"rsi":70,"m":0.68,"s":0.7,"hs":0.01,"obv":1.45,"btc":56.13},
{"h":316,"EMA7":74.1,"rsi":66,"m":0.7,"s":0.7,"hs":0.0,"obv":1.72,"btc":56.1},
{"h":320,"EMA7":73.9,"rsi":62,"m":0.74,"s":0.72,"hs":-0.1,"obv":1.55,"btc":56.04},
{"h":324,"EMA7":74.0,"rsi":50,"m":0.35,"s":0.52,"hs":-0.21,"obv":1.3,"btc":56.0},
{"h":328,"EMA7":74.0,"rsi":57,"m":0.33,"s":0.4,"hs":-0.12,"obv":1.35,"btc":55.94},
{"h":332,"EMA7":74.1,"rsi":57,"m":0.32,"s":0.35,"hs":-0.02,"obv":1.42,"btc":55.8},
{"h":336,"EMA7":74.4,"rsi":66,"m":0.3,"s":0.32,"hs":-0.01,"obv":1.72,"btc":55.67},
{"h":340,"EMA7":74.0,"rsi":47,"m":0.1,"s":0.18,"hs":0.0,"obv":1.5,"btc":56.31},
{"h":344,"EMA7":73.4,"rsi":44,"m":-0.1,"s":0.0,"hs":-0.12,"obv":1.25,"btc":56.25},
{"h":348,"EMA7":72.5,"rsi":42,"m":-0.35,"s":-0.22,"hs":-0.18,"obv":1.0,"btc":56.35},
{"h":352,"EMA7":70.9,"rsi":30,"m":-0.6,"s":-0.45,"hs":-0.25,"obv":0.6,"btc":56.6},
{"h":356,"EMA7":69.5,"rsi":22,"m":-1.05,"s":-0.85,"hs":-0.33,"obv":-0.04,"btc":56.77},
{"h":360,"EMA7":68.9,"rsi":30,"m":-1.12,"s":-1.05,"hs":-0.15,"obv":0.0,"btc":56.68},
{"h":364,"EMA7":68.9,"rsi":32,"m":-1.05,"s":-1.08,"hs":-0.02,"obv":0.0,"btc":56.72},
{"h":368,"EMA7":69.2,"rsi":32,"m":-0.85,"s":-0.95,"hs":0.1,"obv":0.05,"btc":56.77},
{"h":372,"EMA7":69.5,"rsi":40,"m":-0.55,"s":-0.7,"hs":0.22,"obv":0.09,"btc":56.7},
{"h":376,"EMA7":69.6,"rsi":47,"m":-0.38,"s":-0.5,"hs":0.15,"obv":0.16,"btc":56.8},
{"h":380,"EMA7":69.5,"rsi":50,"m":-0.25,"s":-0.33,"hs":0.05,"obv":0.1,"btc":56.77},
{"h":384,"EMA7":69.0,"rsi":42,"m":-0.3,"s":-0.3,"hs":0.0,"obv":-0.04,"btc":56.13},
{"h":388,"EMA7":67.3,"rsi":22,"m":-0.9,"s":-0.65,"hs":-0.37,"obv":-1.5,"btc":56.9},
{"h":392,"EMA7":67.4,"rsi":45,"m":-0.8,"s":-0.75,"hs":-0.1,"obv":-0.84,"btc":56.7},
{"h":396,"EMA7":67.7,"rsi":47,"m":-0.55,"s":-0.63,"hs":0.07,"obv":-0.8,"btc":56.59},
{"h":400,"EMA7":67.9,"rsi":47,"m":-0.2,"s":-0.35,"hs":0.25,"obv":-0.79,"btc":56.45},
{"h":404,"EMA7":68.5,"rsi":58,"m":-0.05,"s":-0.12,"hs":0.3,"obv":-0.67,"btc":56.4},
{"h":408,"EMA7":67.9,"rsi":35,"m":-0.35,"s":-0.25,"hs":-0.24,"obv":-1.3,"btc":56.7},
{"h":412,"EMA7":66.8,"rsi":44,"m":-0.5,"s":-0.42,"hs":-0.1,"obv":-1.1,"btc":56.77},
{"h":416,"EMA7":66.7,"rsi":48,"m":-0.52,"s":-0.5,"hs":0.0,"obv":-1.0,"btc":56.87},
{"h":420,"EMA7":66.8,"rsi":50,"m":-0.45,"s":-0.47,"hs":0.13,"obv":-0.8,"btc":56.9},
{"h":424,"EMA7":67.4,"rsi":58,"m":-0.2,"s":-0.3,"hs":0.28,"obv":-0.75,"btc":57.38},
{"h":428,"EMA7":68.5,"rsi":50,"m":0.5,"s":0.2,"hs":0.43,"obv":-0.67,"btc":56.77},
{"h":432,"EMA7":69.6,"rsi":58,"m":0.42,"s":0.35,"hs":0.13,"obv":-0.42,"btc":56.87},
{"h":436,"EMA7":71.0,"rsi":68,"m":1.0,"s":0.75,"hs":0.4,"obv":-0.59,"btc":56.2},
{"h":440,"EMA7":72.2,"rsi":70,"m":1.25,"s":1.1,"hs":0.2,"obv":0.34,"btc":56.13},
{"h":444,"EMA7":72.2,"rsi":66,"m":1.05,"s":1.1,"hs":0.0,"obv":0.0,"btc":56.31},
{"h":448,"EMA7":72.1,"rsi":62,"m":0.9,"s":0.97,"hs":-0.1,"obv":0.0,"btc":56.35},
{"h":452,"EMA7":72.0,"rsi":60,"m":0.82,"s":0.87,"hs":-0.12,"obv":-0.04,"btc":56.5},
{"h":456,"EMA7":72.1,"rsi":62,"m":0.7,"s":0.76,"hs":-0.15,"obv":0.0,"btc":56.45},
{"h":460,"EMA7":72.3,"rsi":65,"m":0.6,"s":0.65,"hs":-0.2,"obv":0.16,"btc":56.35},
{"h":464,"EMA7":71.8,"rsi":48,"m":0.2,"s":0.35,"hs":-0.24,"obv":-0.16,"btc":56.6},
{"h":468,"EMA7":71.2,"rsi":42,"m":-0.12,"s":0.05,"hs":-0.15,"obv":-0.1,"btc":56.77},
{"h":472,"EMA7":70.9,"rsi":45,"m":-0.2,"s":-0.12,"hs":-0.02,"obv":-0.04,"btc":56.85},
{"h":476,"EMA7":71.3,"rsi":57,"m":0.0,"s":-0.05,"hs":0.1,"obv":-0.1,"btc":56.87},
{"h":480,"EMA7":71.5,"rsi":56,"m":0.1,"s":0.05,"hs":0.08,"obv":-0.15,"btc":56.7},
{"h":484,"EMA7":71.3,"rsi":50,"m":0.15,"s":0.12,"hs":0.02,"obv":-0.24,"btc":56.4},
{"h":488,"EMA7":71.1,"rsi":44,"m":-0.05,"s":0.03,"hs":-0.085,"obv":-0.4,"btc":56.5},
{"h":492,"EMA7":70.9,"rsi":58,"m":-0.05,"s":-0.03,"hs":0.05,"obv":-0.35,"btc":56.42},
{"h":496,"EMA7":71.7,"rsi":55,"m":0.2,"s":0.1,"hs":0.13,"obv":-0.1,"btc":56.5},
{"h":499,"EMA7":72.16,"rsi":60.08,"m":0.32,"s":0.2,"obv":0.26,"btc":56.56}
],
"ema": [
{"h":20,"EMA20":66.9,"bu":68.1,"bl":65.7},
{"h":30,"EMA20":66.1,"bu":67.9,"bl":64.5},
{"h":40,"EMA20":65.5,"bu":67.4,"bl":64.2},
{"h":50,"EMA20":65.0,"EMA50":65.35,"bu":66.6,"bl":63.9},
{"h":60,"EMA20":64.3,"EMA50":64.9,"bu":66.2,"bl":63.2},
{"h":70,"EMA20":64.8,"EMA50":65.0,"bu":66.3,"bl":63.3},
{"h":80,"EMA20":65.6,"EMA50":65.3,"bu":66.9,"bl":64.0},
{"h":90,"EMA20":66.4,"EMA50":65.95,"bu":67.4,"bl":65.4},
{"h":100,"EMA20":66.9,"EMA50":66.3,"EMA100":66.5,"bu":68.2,"bl":65.9},
{"h":110,"EMA20":66.95,"EMA50":66.5,"EMA100":66.6,"bu":68.4,"bl":65.9},
{"h":120,"EMA20":67.0,"EMA50":66.7,"EMA100":66.7,"bu":68.0,"bl":66.3},
{"h":130,"EMA20":68.1,"EMA50":67.0,"EMA100":66.85,"bu":69.6,"bl":66.0},
{"h":140,"EMA20":68.4,"EMA50":67.3,"EMA100":67.0,"bu":69.7,"bl":67.0},
{"h":150,"EMA20":68.1,"EMA50":67.8,"EMA100":67.1,"bu":69.2,"bl":67.2},
{"h":160,"EMA20":69.3,"EMA50":68.4,"EMA100":67.8,"bu":71.8,"bl":65.6},
{"h":170,"EMA20":71.3,"EMA50":70.0,"EMA100":68.9,"bu":75.2,"bl":65.0},
{"h":180,"EMA20":73.3,"EMA50":71.4,"EMA100":70.0,"bu":76.3,"bl":67.0},
{"h":190,"EMA20":74.0,"EMA50":72.4,"EMA100":71.0,"bu":76.2,"bl":71.0},
{"h":200,"EMA20":74.0,"EMA50":72.9,"EMA100":71.5,"EMA200":69.4,"bu":75.4,"bl":72.6},
{"h":210,"EMA20":73.7,"EMA50":73.05,"EMA100":71.7,"EMA200":69.7,"bu":74.9,"bl":72.6},
{"h":220,"EMA20":73.1,"EMA50":73.05,"EMA100":71.9,"EMA200":69.95,"bu":74.7,"bl":71.7},
{"h":230,"EMA20":72.6,"EMA50":72.6,"EMA100":72.0,"EMA200":70.2,"bu":74.6,"bl":70.6},
{"h":240,"EMA20":71.5,"EMA50":71.9,"EMA100":71.6,"EMA200":70.3,"bu":74.2,"bl":69.2},
{"h":250,"EMA20":70.2,"EMA50":71.3,"EMA100":71.2,"EMA200":70.3,"bu":72.9,"bl":67.6},
{"h":260,"EMA20":69.3,"EMA50":70.7,"EMA100":70.8,"EMA200":70.25,"bu":70.6,"bl":67.7},
{"h":270,"EMA20":69.0,"EMA50":70.2,"EMA100":70.55,"EMA200":70.2,"bu":69.5,"bl":67.9},
{"h":280,"EMA20":69.3,"EMA50":70.1,"EMA100":70.4,"EMA200":70.1,"bu":70.8,"bl":67.6},
{"h":290,"EMA20":70.8,"EMA50":70.6,"EMA100":70.6,"EMA200":70.25,"bu":72.9,"bl":67.4},
{"h":300,"EMA20":72.0,"EMA50":71.2,"EMA100":70.9,"EMA200":70.4,"bu":74.2,"bl":69.2},
{"h":310,"EMA20":73.0,"EMA50":71.9,"EMA100":71.4,"EMA200":70.8,"bu":74.6,"bl":71.5},
{"h":320,"EMA20":73.5,"EMA50":72.5,"EMA100":71.9,"EMA200":71.2,"bu":74.7,"bl":72.7},
{"h":330,"EMA20":73.8,"EMA50":73.0,"EMA100":72.35,"EMA200":71.45,"bu":74.7,"bl":73.2},
{"h":340,"EMA20":73.8,"EMA50":73.25,"EMA100":72.55,"EMA200":71.6,"bu":75.0,"bl":72.8},
{"h":350,"EMA20":72.6,"EMA50":72.9,"EMA100":72.4,"EMA200":71.6,"bu":75.3,"bl":70.3},
{"h":360,"EMA20":70.6,"EMA50":72.0,"EMA100":71.7,"EMA200":71.35,"bu":74.6,"bl":67.8},
{"h":370,"EMA20":69.5,"EMA50":71.4,"EMA100":71.3,"EMA200":71.15,"bu":72.2,"bl":67.2},
{"h":380,"EMA20":69.5,"EMA50":70.9,"EMA100":70.9,"EMA200":70.9,"bu":70.3,"bl":68.6},
{"h":390,"EMA20":68.3,"EMA50":70.4,"EMA100":70.6,"EMA200":70.65,"bu":71.3,"bl":66.2},
{"h":400,"EMA20":68.0,"EMA50":69.4,"EMA100":69.95,"EMA200":70.45,"bu":71.6,"bl":65.5},
{"h":410,"EMA20":67.5,"EMA50":69.0,"EMA100":69.5,"EMA200":70.2,"bu":70.5,"bl":65.4},
{"h":420,"EMA20":67.3,"EMA50":68.2,"EMA100":69.1,"EMA200":69.9,"bu":69.6,"bl":64.9},
{"h":430,"EMA20":68.7,"EMA50":68.2,"EMA100":69.1,"EMA200":69.85,"bu":70.3,"bl":65.3},
{"h":440,"EMA20":70.6,"EMA50":69.4,"EMA100":69.5,"EMA200":70.0,"bu":74.1,"bl":65.6},
{"h":450,"EMA20":71.6,"EMA50":70.4,"EMA100":69.9,"EMA200":70.25,"bu":74.2,"bl":67.5},
{"h":460,"EMA20":72.0,"EMA50":70.9,"EMA100":70.3,"EMA200":70.4,"bu":73.3,"bl":70.2},
{"h":470,"EMA20":71.5,"EMA50":71.1,"EMA100":70.55,"EMA200":70.5,"bu":72.6,"bl":70.4},
{"h":480,"EMA20":71.4,"EMA50":71.2,"EMA100":70.75,"EMA200":70.5,"bu":72.3,"bl":70.5},
{"h":490,"EMA20":71.3,"EMA50":71.1,"EMA100":70.9,"EMA200":70.55,"bu":72.3,"bl":70.3},
{"h":499,"EMA20":71.72,"EMA50":71.36,"EMA100":71.0,"EMA200":70.65,"bu":72.7,"bl":70.5}
],
"fund": [
{"h":0,"f":0.0037},{"h":3,"f":0.0003},{"h":11,"f":-0.0012},{"h":20,"f":0.0032},{"h":29,"f":0.0008},{"h":44,"f":-0.003},{"h":52,"f":0.0027},{"h":60,"f":-0.0006},{"h":69,"f":0.0029},{"h":84,"f":-0.0011},{"h":91,"f":0.0027},{"h":100,"f":0.0009},{"h":108,"f":0.0055},{"h":117,"f":0.0003},{"h":125,"f":0.0011},{"h":133,"f":-0.0044},{"h":148,"f":-0.0028},{"h":157,"f":0.003},{"h":166,"f":0.0008},{"h":173,"f":-0.0056},{"h":181,"f":0.0003},{"h":197,"f":0.0006},{"h":204,"f":0.0022},{"h":212,"f":-0.0063},{"h":220,"f":-0.0023},{"h":230,"f":0.0029},{"h":246,"f":0.0011},{"h":253,"f":0.0061},{"h":261,"f":0.0022},{"h":276,"f":0.006},{"h":284,"f":0.0029},{"h":292,"f":0.004},{"h":299,"f":0.0009},{"h":307,"f":0.0032},{"h":315,"f":0.0045},{"h":323,"f":0.0067},{"h":331,"f":0.0017},{"h":340,"f":0.0048},{"h":348,"f":0.004},{"h":356,"f":-0.0017},{"h":364,"f":0.0023},{"h":388,"f":0.0003},{"h":396,"f":-0.0012},{"h":404,"f":-0.0017},{"h":411,"f":0.0017},{"h":420,"f":0.0053},{"h":428,"f":0.006},{"h":435,"f":0.0074},{"h":443,"f":0.0053},{"h":451,"f":0.0045},{"h":459,"f":0.004},{"h":467,"f":0.0045},{"h":476,"f":0.0015},{"h":483,"f":0.0046},{"h":492,"f":0.0032},{"h":499,"f":0.0032}
],
"info": [
{"k":"Price\u00a0:","v":"72.69"},
{"k":"EMA7\u00a0\u00a0:","v":"72.16"},
{"k":"EMA20\u00a0:","v":"71.72"},
{"k":"EMA50\u00a0:","v":"71.36"},
{"k":"EMA200:","v":"70.65"},
{"k":"BB\u00a0Mid:","v":"71.59"},
{"k":"RSI\u00a0\u00a0\u00a0:","v":"60.08"},
{"k":"Fund\u00a0\u00a0:","v":"0.0031%"},
{"k":"BTC.D\u00a0:","v":"56.56%"},
{"k":"USDT.D:","v":"8.63%"}
],
"one": [{"n": 1}]
},
"vconcat": [
{
"width": 673, "height": 195,
"layer": [
{
"layer": [
{"data": {"name": "c"}, "mark": {"type": "rule", "strokeWidth": 0.8}, "encoding": {"x": {"field": "h", "type": "quantitative", "scale": {"domain": [-2.25, 501.5], "nice": false, "zero": false}, "axis": {"values": [0,100,200,300,400,500], "labels": false, "ticks": false, "title": null}}, "y": {"field": "lo", "type": "quantitative", "title": "Price", "scale": {"domain": [62.18, 76.24], "nice": false, "zero": false}, "axis": {"values": [64,66,68,70,72,74,76], "orient": "right"}}, "y2": {"field": "hi"}, "color": {"condition": {"test": "datum.c >= datum.o", "value": "#2ea043"}, "value": "#e5534b"}}},
{"data": {"name": "c"}, "mark": {"type": "bar", "width": 1.8}, "encoding": {"x": {"field": "h", "type": "quantitative"}, "y": {"field": "o", "type": "quantitative", "title": "Price"}, "y2": {"field": "c"}, "color": {"condition": {"test": "datum.c >= datum.o", "value": "#2ea043"}, "value": "#e5534b"}}},
{"data": {"name": "ema"}, "transform": [{"fold": ["bu", "bl"], "as": ["band", "val"]}], "mark": {"type": "line", "strokeWidth": 0.8, "strokeDash": [2, 2], "color": "#6b717b"}, "encoding": {"x": {"field": "h", "type": "quantitative"}, "y": {"field": "val", "type": "quantitative", "title": "Price"}, "detail": {"field": "band"}}},
{"data": {"name": "ema"}, "transform": [{"fold": ["EMA20", "EMA50", "EMA100", "EMA200"], "as": ["key", "val"]}], "mark": {"type": "line"}, "encoding": {"x": {"field": "h", "type": "quantitative"}, "y": {"field": "val", "type": "quantitative", "title": "Price"}, "strokeWidth": {"condition": {"test": "datum.key === 'EMA200'", "value": 2}, "value": 1.3}, "color": {"field": "key", "type": "nominal", "scale": {"domain": ["EMA7", "EMA20", "EMA50", "EMA100", "EMA200"], "range": ["#e8605a", "#3cc6c0", "#f4d35e", "#a5d6d6", "#b36ff0"]}, "legend": {"orient": "bottom-left", "direction": "horizontal", "title": null, "symbolType": "stroke", "symbolStrokeWidth": 2, "symbolSize": 360, "labelColor": "#e0e3e8", "labelFontSize": 10, "labelFont": "DejaVu Sans", "fillColor": "#161a22", "strokeColor": "#3a3f48", "padding": 2, "cornerRadius": 3, "offset": 5, "columnPadding": 11, "labelOffset": 5}}}},
{"data": {"name": "ind"}, "transform": [{"fold": ["EMA7"], "as": ["key", "val"]}], "mark": {"type": "line", "strokeWidth": 1.2}, "encoding": {"x": {"field": "h", "type": "quantitative"}, "y": {"field": "val", "type": "quantitative", "title": "Price"}, "color": {"field": "key", "type": "nominal"}}},
{"data": {"name": "one"}, "mark": {"type": "rect", "fill": "#0f1218", "fillOpacity": 0.95, "stroke": "#4a505a", "strokeWidth": 1, "cornerRadius": 3}, "encoding": {"x": {"datum": -2.25}, "x2": {"datum": 88.8}, "y": {"datum": 76.4}, "y2": {"datum": 68.6}}},
{"data": {"name": "one"}, "mark": {"type": "text", "text": "1e6", "align": "right", "baseline": "bottom", "fontSize": 9, "color": "#9aa0a8"}, "encoding": {"x": {"datum": 501.5}, "y": {"datum": 62.32}}}
]
},
{
"data": {"name": "info"},
"encoding": {"y": {"field": "k", "type": "nominal", "sort": null, "scale": {"type": "point", "range": [5.3, 98.7], "padding": 0}, "axis": null}},
"layer": [
{"mark": {"type": "text", "align": "left", "baseline": "middle", "font": "DejaVu Sans Mono", "fontSize": 9, "color": "#d6d9de"}, "encoding": {"x": {"datum": 0.22}, "text": {"field": "k"}}},
{"mark": {"type": "text", "align": "right", "baseline": "middle", "font": "DejaVu Sans Mono", "fontSize": 9, "color": "#d6d9de"}, "encoding": {"x": {"datum": 86.8}, "text": {"field": "v"}}}
]
}
],
"resolve": {"scale": {"y": "independent"}}
},
{
"width": 673, "height": 49,
"data": {"name": "c"},
"mark": {"type": "bar", "width": 1.9},
"encoding": {
"x": {"field": "h", "type": "quantitative", "scale": {"domain": [-2.25, 501.5], "nice": false, "zero": false}, "axis": {"values": [0,100,200,300,400,500], "labels": false, "ticks": false, "title": null}},
"y": {"field": "v", "type": "quantitative", "title": "Vol", "scale": {"domain": [0, 5.7], "nice": false}, "axis": {"values": [0, 5], "orient": "right"}},
"color": {"condition": {"test": "datum.c >= datum.o", "value": "#238a3a"}, "value": "#a12a2a"}
}
},
{
"width": 673, "height": 48,
"data": {"name": "ind"},
"mark": {"type": "line", "strokeWidth": 1.3, "color": "#f0c020"},
"encoding": {
"x": {"field": "h", "type": "quantitative", "scale": {"domain": [-2.25, 501.5], "nice": false, "zero": false}, "axis": {"values": [0,100,200,300,400,500], "labels": false, "ticks": false, "title": null}},
"y": {"field": "rsi", "type": "quantitative", "title": "RSI", "scale": {"domain": [17.8, 91.4], "nice": false, "zero": false}, "axis": {"values": [25, 50, 75], "orient": "right"}}
}
},
{
"width": 673, "height": 49,
"data": {"name": "ind"},
"encoding": {"x": {"field": "h", "type": "quantitative", "scale": {"domain": [-2.25, 501.5], "nice": false, "zero": false}, "axis": {"values": [0,100,200,300,400,500], "labels": false, "ticks": false, "title": null}}},
"layer": [
{"mark": {"type": "line", "strokeWidth": 1.5, "color": "#1fb5ea"}, "encoding": {"y": {"field": "m", "type": "quantitative", "title": "MACD", "scale": {"domain": [-1.25, 1.84], "nice": false, "zero": false}, "axis": {"values": [-1, 0, 1], "format": "d", "orient": "right"}}}},
{"mark": {"type": "line", "strokeWidth": 1.5, "color": "#ff8c1a"}, "encoding": {"y": {"field": "s", "type": "quantitative", "title": "MACD"}}}
]
},
{
"width": 673, "height": 49,
"layer": [
{"data": {"name": "ind"}, "mark": {"type": "bar", "width": 4.6, "color": "#4fd1c5", "stroke": "#2a8d85", "strokeWidth": 0.6}, "encoding": {"x": {"field": "h", "type": "quantitative", "scale": {"domain": [-2.25, 501.5], "nice": false, "zero": false}, "axis": {"values": [0,100,200,300,400,500], "labels": false, "ticks": false, "title": null}}, "y": {"field": "hs", "type": "quantitative", "title": "Hist", "scale": {"domain": [-0.401, 0.493], "nice": false, "zero": false}, "axis": {"values": [-0.25, 0, 0.25], "format": ".2f", "orient": "right"}}}},
{"data": {"name": "one"}, "mark": {"type": "text", "text": "blockdigest.io", "angle": -33, "align": "center", "baseline": "middle", "fontSize": 46, "fontWeight": "bold", "font": "DejaVu Sans", "color": "#ffffff", "opacity": 0.06}, "encoding": {"x": {"datum": 228.2}, "y": {"datum": 1.405}}},
{"data": {"name": "one"}, "mark": {"type": "text", "text": "1e7", "align": "right", "baseline": "bottom", "fontSize": 9, "color": "#9aa0a8"}, "encoding": {"x": {"datum": 501.5}, "y": {"datum": -0.347}}}
]
},
{
"width": 673, "height": 48,
"data": {"name": "ind"},
"mark": {"type": "line", "strokeWidth": 1.2, "color": "#b875eb"},
"encoding": {
"x": {"field": "h", "type": "quantitative", "scale": {"domain": [-2.25, 501.5], "nice": false, "zero": false}, "axis": {"values": [0,100,200,300,400,500], "labels": false, "ticks": false, "title": null}},
"y": {"field": "obv", "type": "quantitative", "title": "OBV", "scale": {"domain": [-1.69, 1.93], "nice": false, "zero": false}, "axis": {"values": [-1, 0, 1], "format": "d", "orient": "right"}}
}
},
{
"width": 673, "height": 49,
"data": {"name": "fund"},
"mark": {"type": "line", "strokeWidth": 1.5, "color": "#e8b710", "interpolate": "step-after"},
"encoding": {
"x": {"field": "h", "type": "quantitative", "scale": {"domain": [-2.25, 501.5], "nice": false, "zero": false}, "axis": {"values": [0,100,200,300,400,500], "labels": false, "ticks": false, "title": null}},
"y": {"field": "f", "type": "quantitative", "title": "Fund%", "scale": {"domain": [-0.00686, 0.00831], "nice": false, "zero": false}, "axis": {"values": [-0.005, 0, 0.005], "format": ".3f", "orient": "right"}}
}
},
{
"width": 673, "height": 49,
"layer": [
{"data": {"name": "ind"}, "mark": {"type": "line", "strokeWidth": 1.2, "color": "#a8e0da"}, "encoding": {"x": {"field": "h", "type": "quantitative", "scale": {"domain": [-2.25, 501.5], "nice": false, "zero": false}, "axis": {"values": [0,100,200,300,400,500], "title": null, "labelExpr": "datum.value == 0 ? 'Jun 08, 12:00' : datum.value == 100 ? 'Jun 12, 16:00' : datum.value == 200 ? 'Jun 16, 20:00' : datum.value == 300 ? 'Jun 21, 00:00' : datum.value == 400 ? 'Jun 25, 04:00' : ''", "labelAngle": -45, "labelAlign": "center", "labelBaseline": "middle", "labelPadding": 28, "labelFlush": false, "labelOverlap": false}}, "y": {"field": "btc", "type": "quantitative", "title": "BTC.D", "scale": {"domain": [54.81, 57.51], "nice": false, "zero": false}, "axis": {"values": [55, 56, 57], "orient": "right"}}}},
{"data": {"name": "one"}, "mark": {"type": "text", "text": "blockdigest.io", "align": "right", "baseline": "middle", "fontSize": 11, "fontWeight": "bold", "font": "DejaVu Sans", "color": "#2e333c"}, "encoding": {"x": {"datum": 510.3}, "y": {"datum": 52.6}}}
]
}
],
"config": {
"view": {"fill": "#161a22", "stroke": "#2b3039", "strokeWidth": 1},
"font": "DejaVu Sans",
"axis": {"domain": false, "grid": true, "gridColor": "#2d323b", "gridDash": [3, 3], "gridWidth": 0.8, "tickColor": "#6c717a", "tickSize": 3.5, "labelColor": "#9aa0a8", "labelFontSize": 9, "labelFont": "DejaVu Sans", "titleColor": "#9aa0a8", "titleFontSize": 9, "titleFont": "DejaVu Sans", "titleFontWeight": "normal"},
"axisY": {"titleAngle": 270, "titleBaseline": "top", "labelPadding": 4.5, "titlePadding": 6}
}
}
